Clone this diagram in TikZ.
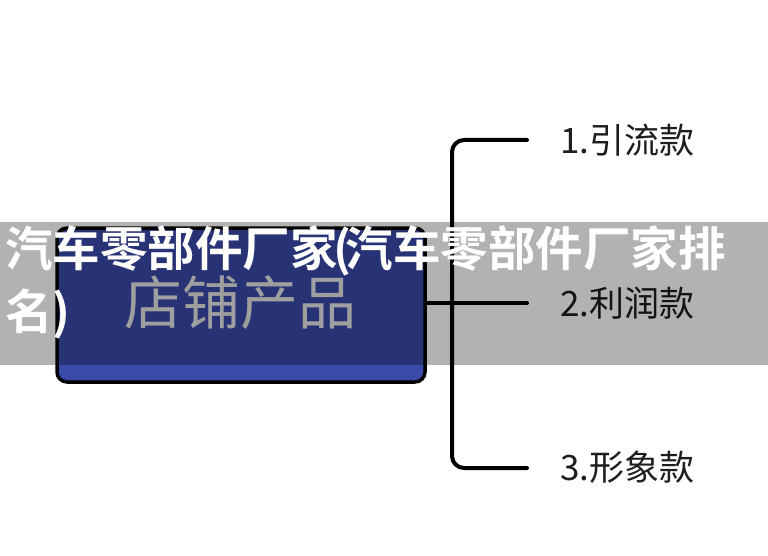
\documentclass[tikz,border=0pt]{standalone}
\usepackage{fontspec}
\newfontfamily\cjk{Noto Sans CJK SC}
\newfontfamily\cjkb{Noto Sans CJK SC Bold}
\begin{document}
\begin{tikzpicture}[x=1pt,y=-1pt,
  mainbox/.style={draw=black, line width=3.5pt, rounded corners=10pt, fill=boxblue, minimum width=368pt, minimum height=154pt, inner sep=0pt},
  wire/.style={draw=black, line width=4pt, line cap=round},
  leaf/.style={anchor=west, inner sep=0pt, text=labeltext, font=\cjk\fontsize{35}{40}\selectfont},
  bannertext/.style={anchor=west, inner sep=0pt, text=white, font=\cjkb\fontsize{47.5}{54}\selectfont}
]
\definecolor{boxblue}{HTML}{3A4AA8}
\definecolor{labeltext}{HTML}{1E1E1E}
\definecolor{boxtext}{HTML}{E4E4E4}
\useasboundingbox (0,0) rectangle (768,556);
\fill[white] (0,0) rectangle (768,556);
% main box
\node[mainbox] (box) at (241,305) {};
\node[inner sep=0pt, text=boxtext, font=\cjk\fontsize{58}{64}\selectfont] (boxlabel) at (240,303) {店铺产品};
% bracket coordinates
\coordinate (e1) at (527,140);
\coordinate (e2) at (527,303);
\coordinate (e3) at (527,468);
\coordinate (v1) at (452,140);
\coordinate (v3) at (452,468);
\draw[wire, rounded corners=12pt] (e1) -- (v1) -- (v3) -- (e3);
\draw[wire] (box.east |- e2) -- (e2);
% labels
\node[leaf] (l1) at (560,140) {1.引流款};
\node[leaf] (l2) at (560,303) {2.利润款};
\node[leaf] (l3) at (560,467) {3.形象款};
% banner
\fill[black, opacity=0.3] (0,222) rectangle (768,365);
\node[bannertext] (t1) at (5,251) {汽车零部件厂家\kern-4pt(\kern-6pt汽车零部件厂家排};
\node[bannertext] (t2) at (5,314) {名)};
\end{tikzpicture}
\end{document}
